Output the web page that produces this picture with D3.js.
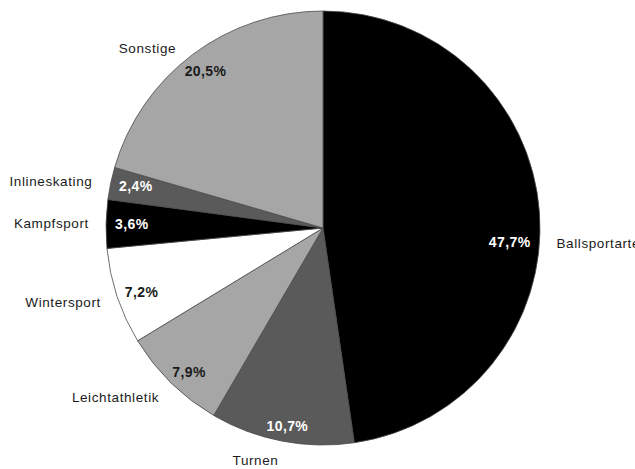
<!DOCTYPE html>
<html>
<head>
<meta charset="utf-8">
<script src="https://cdn.jsdelivr.net/npm/d3@7"></script>
<style>
  html, body { margin: 0; padding: 0; background: #fff; overflow: hidden; }
  svg { display: block; }
</style>
</head>
<body>
<svg id="chart" width="635" height="469"></svg>
<script>
// Sportarten und Anteile (in %), im Uhrzeigersinn ab 12 Uhr
const categories = ["Ballsportarten", "Turnen", "Leichtathletik", "Wintersport", "Kampfsport", "Inlineskating", "Sonstige"];
const shares = [47.7, 10.7, 7.9, 7.2, 3.6, 2.4, 20.5];
const percentLabels = ["47,7%", "10,7%", "7,9%", "7,2%", "3,6%", "2,4%", "20,5%"];

const fills = ["#000000", "#5a5a5a", "#a6a6a6", "#ffffff", "#000000", "#5a5a5a", "#a6a6a6"];
const pctColors = ["#ffffff", "#ffffff", "#1a1a1a", "#1a1a1a", "#ffffff", "#ffffff", "#1a1a1a"];
// small angular shift (degrees) for labels of some slices
const labelTurn = { "Ballsportarten": 8, "Sonstige": -2 };

const width = 635, height = 469;
const cx = 323, cy = 228, r = 217;

const svg = d3.select("#chart");
const g = svg.append("g").attr("transform", `translate(${cx},${cy})`);

const data = categories.map((c, i) => ({ name: c, value: shares[i], pct: percentLabels[i], i }));

const pie = d3.pie().value(d => d.value).sort(null);
const arcs = pie(data);
const arc = d3.arc().innerRadius(0).outerRadius(r);

g.selectAll("path.slice")
  .data(arcs)
  .join("path")
  .attr("class", "slice")
  .attr("d", arc)
  .attr("fill", d => fills[d.data.i])
  .attr("stroke", "#4a4a4a")
  .attr("stroke-width", 0.8)
  .attr("stroke-linejoin", "round");

const fontFamily = "'Liberation Sans', Arial, Helvetica, sans-serif";

function midAngle(d) {
  const a = (d.startAngle + d.endAngle) / 2;
  return a + ((labelTurn[d.data.name] || 0) * Math.PI / 180);
}

// percentage labels, kept inside the slice near the rim
const pctSize = 14, pctLs = 0.4;
const pctG = g.selectAll("text.pct")
  .data(arcs)
  .join("text")
  .attr("class", "pct")
  .attr("font-family", fontFamily)
  .attr("font-size", pctSize)
  .attr("font-weight", "bold")
  .attr("letter-spacing", pctLs)
  .attr("fill", d => pctColors[d.data.i])
  .attr("text-anchor", "middle")
  .attr("dominant-baseline", "central")
  .text(d => d.data.pct);

pctG.each(function(d) {
  const a = midAngle(d);
  const s = Math.sin(a), c = Math.cos(a);
  const w = this.getComputedTextLength();
  const h = pctSize * 0.85;
  const rho = r - 9;
  const px = rho * s, py = -rho * c;
  const x = px - (w / 2) * s;
  const y = py + (h / 2) * c;
  d3.select(this).attr("x", x).attr("y", y);
});

// category names outside the pie
g.selectAll("text.cat")
  .data(arcs)
  .join("text")
  .attr("class", "cat")
  .attr("font-family", fontFamily)
  .attr("font-size", 13.5)
  .attr("letter-spacing", 0.6)
  .attr("fill", "#1a1a1a")
  .attr("dominant-baseline", "central")
  .each(function(d) {
    const a = (d.startAngle + d.endAngle) / 2 + ((d.data.name === "Ballsportarten" ? 8 : 0) * Math.PI / 180);
    const s = Math.sin(a), c = Math.cos(a);
    const ex = r * s, ey = -r * c;
    const x = ex + 17 * s - 8 * Math.max(c, 0);
    const y = ey - (c > 0 ? 8 : 20) * c;
    d3.select(this)
      .attr("x", x)
      .attr("y", y)
      .attr("text-anchor", s < 0 ? "end" : "start")
      .text(d.data.name);
  });
</script>
</body>
</html>
